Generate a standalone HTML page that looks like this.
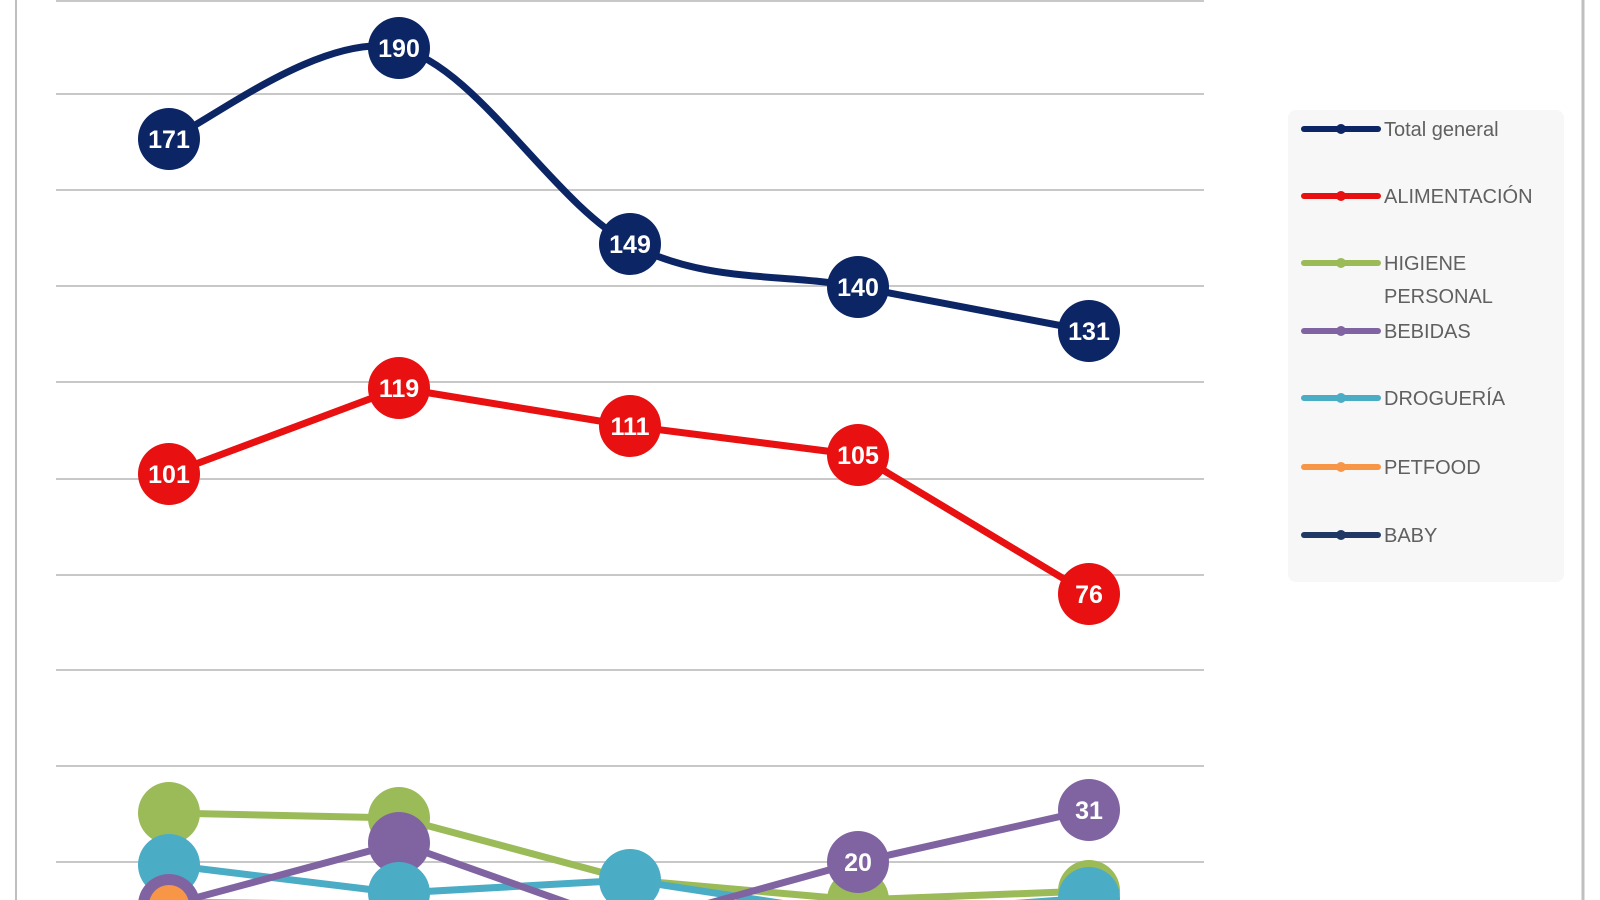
<!DOCTYPE html>
<html><head><style>
html,body{margin:0;padding:0;background:#fff;}
svg{display:block;}
text{font-family:"Liberation Sans",sans-serif;}
</style></head><body>
<svg width="1600" height="900" viewBox="0 0 1600 900">
<rect width="1600" height="900" fill="#fff"/>
<line x1="16" y1="0" x2="16" y2="900" stroke="#bfbfbf" stroke-width="2"/>
<line x1="1583" y1="0" x2="1583" y2="900" stroke="#bfbfbf" stroke-width="3"/>
<g stroke="#c8c8c8" stroke-width="2">
<line x1="56" y1="1" x2="1204" y2="1"/>
<line x1="56" y1="94" x2="1204" y2="94"/>
<line x1="56" y1="190" x2="1204" y2="190"/>
<line x1="56" y1="286" x2="1204" y2="286"/>
<line x1="56" y1="382" x2="1204" y2="382"/>
<line x1="56" y1="479" x2="1204" y2="479"/>
<line x1="56" y1="575" x2="1204" y2="575"/>
<line x1="56" y1="670" x2="1204" y2="670"/>
<line x1="56" y1="766" x2="1204" y2="766"/>
<line x1="56" y1="862" x2="1204" y2="862"/>
</g>
<g fill="none" stroke-width="7" stroke-linejoin="round">
<polyline stroke="#f79646" points="169,902 399,905 630,925"/>
<polyline stroke="#9bbb59" points="169,813 399,818 630,880 858,900 1089,891"/>
<polyline stroke="#4bacc6" points="169,865 399,893 630,880 858,915 1089,898"/>
<polyline stroke="#8064a2" points="169,905 399,843 630,925 858,862 1089,810"/>
</g>
<g>
<circle cx="169" cy="813" r="31" fill="#9bbb59"/>
<circle cx="399" cy="818" r="31" fill="#9bbb59"/>
<circle cx="858" cy="900" r="31" fill="#9bbb59"/>
<circle cx="1089" cy="891" r="31" fill="#9bbb59"/>
<circle cx="399" cy="843" r="31" fill="#8064a2"/>
<circle cx="169" cy="865" r="31" fill="#4bacc6"/>
<circle cx="399" cy="893" r="31" fill="#4bacc6"/>
<circle cx="630" cy="880" r="31" fill="#4bacc6"/>
<circle cx="1089" cy="898" r="31" fill="#4bacc6"/>
<circle cx="169" cy="905" r="31" fill="#8064a2"/>
<circle cx="169" cy="905" r="20" fill="#f79646"/>
<circle cx="858" cy="862" r="31" fill="#8064a2"/>
<circle cx="1089" cy="810" r="31" fill="#8064a2"/>
</g>
<polyline fill="none" stroke="#e81010" stroke-width="7" stroke-linejoin="round" points="169,474 399,388 630,426 858,455 1089,594"/>
<g fill="#e81010">
<circle cx="169" cy="474" r="31"/><circle cx="399" cy="388" r="31"/><circle cx="630" cy="426" r="31"/><circle cx="858" cy="455" r="31"/><circle cx="1089" cy="594" r="31"/>
</g>
<path fill="none" stroke="#0b2565" stroke-width="7" d="M169,139 C207,124 322,30.5 399,48 C476,65.5 553.5,204 630,244 C706.5,284 781.5,272.5 858,287 C934.5,301.5 1050.5,323.7 1089,331"/>
<g fill="#0b2565">
<circle cx="169" cy="139" r="31"/><circle cx="399" cy="48" r="31"/><circle cx="630" cy="244" r="31"/><circle cx="858" cy="287" r="31"/><circle cx="1089" cy="331" r="31"/>
</g>
<g fill="#fff" font-size="25" font-weight="bold" text-anchor="middle">
<text x="169" y="148">171</text><text x="399" y="57">190</text><text x="630" y="253">149</text><text x="858" y="296">140</text><text x="1089" y="340">131</text>
<text x="169" y="483">101</text><text x="399" y="397">119</text><text x="630" y="435">111</text><text x="858" y="464">105</text><text x="1089" y="603">76</text>
<text x="858" y="871">20</text><text x="1089" y="819">31</text>
</g>
<rect x="1288" y="110" width="276" height="472" rx="8" fill="#f7f7f7"/>
<g stroke-width="6" stroke-linecap="round">
<line x1="1304" y1="129" x2="1378" y2="129" stroke="#0b2565"/>
<line x1="1304" y1="196" x2="1378" y2="196" stroke="#e81010"/>
<line x1="1304" y1="263" x2="1378" y2="263" stroke="#9bbb59"/>
<line x1="1304" y1="331" x2="1378" y2="331" stroke="#8064a2"/>
<line x1="1304" y1="398" x2="1378" y2="398" stroke="#4bacc6"/>
<line x1="1304" y1="467" x2="1378" y2="467" stroke="#f79646"/>
<line x1="1304" y1="535" x2="1378" y2="535" stroke="#1f3864"/>
</g>
<g>
<circle cx="1341" cy="129" r="5" fill="#0b2565"/>
<circle cx="1341" cy="196" r="5" fill="#e81010"/>
<circle cx="1341" cy="263" r="5" fill="#9bbb59"/>
<circle cx="1341" cy="331" r="5" fill="#8064a2"/>
<circle cx="1341" cy="398" r="5" fill="#4bacc6"/>
<circle cx="1341" cy="467" r="5" fill="#f79646"/>
<circle cx="1341" cy="535" r="5" fill="#1f3864"/>
</g>
<g fill="#606060" font-size="20">
<text x="1384" y="136">Total general</text>
<text x="1384" y="203">ALIMENTACIÓN</text>
<text x="1384" y="270">HIGIENE</text>
<text x="1384" y="303">PERSONAL</text>
<text x="1384" y="338">BEBIDAS</text>
<text x="1384" y="405">DROGUERÍA</text>
<text x="1384" y="474">PETFOOD</text>
<text x="1384" y="542">BABY</text>
</g>
</svg>
</body></html>
